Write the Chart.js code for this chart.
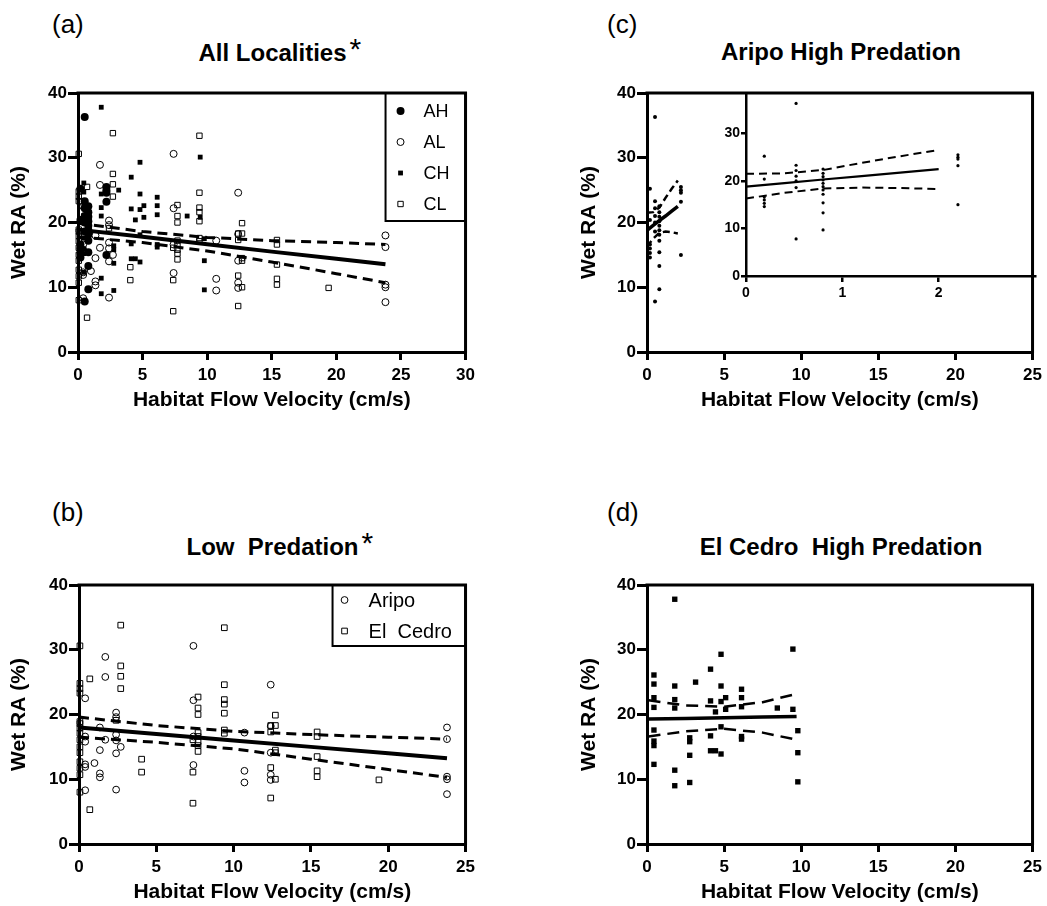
<!DOCTYPE html>
<html>
<head>
<meta charset="utf-8">
<title>Wet RA vs habitat flow velocity</title>
<script src="https://cdn.jsdelivr.net/npm/chart.js@4.4.0/dist/chart.umd.min.js"></script>
<style>
  body { margin: 0; background: #fff; }
  #page { position: relative; width: 1047px; height: 906px; overflow: hidden;
          font-family: "Liberation Sans", Arial, Helvetica, sans-serif; color: #000; }
  canvas { position: absolute; }
  .tag { position: absolute; font-size: 26px; line-height: 30px; }
  .head { position: absolute; font-size: 24px; font-weight: bold; line-height: 28px;
          text-align: center; white-space: pre; }
  .head .t { position: relative; }
  .star { position: absolute; left: 100%; top: -5px; margin-left: 3px;
          font-weight: normal; font-size: 30px; line-height: 30px; }
</style>
</head>
<body>
<div id="page">
  <div class="tag" style="left:52px;top:9px">(a)</div>
  <div class="tag" style="left:607px;top:9px">(c)</div>
  <div class="tag" style="left:52px;top:497px">(b)</div>
  <div class="tag" style="left:607px;top:497px">(d)</div>

  <div class="head" style="left:78px;width:389px;top:39px"><span class="t">All Localities<span class="star">*</span></span></div>
  <div class="head" style="left:647px;width:388px;top:38px"><span class="t">Aripo High Predation</span></div>
  <div class="head" style="left:79px;width:387px;top:533px"><span class="t">Low  Predation<span class="star">*</span></span></div>
  <div class="head" style="left:647px;width:388px;top:533px"><span class="t">El Cedro  High Predation</span></div>

  <canvas id="chartA"></canvas>
  <canvas id="chartB"></canvas>
  <canvas id="chartC"></canvas>
  <canvas id="chartInset"></canvas>
  <canvas id="chartD"></canvas>
</div>

<script>
// AH = Aripo high predation, AL = Aripo low, CH = El Cedro high, CL = El Cedro low
// flow velocity (cm/s) and wet RA (%)
const ahX = [0.19, 0.19, 0.19, 0.19, 0.19, 0.19,
             0.52, 0.52, 0.52, 0.52, 0.52, 0.52, 0.52,
             0.8, 0.8, 0.8, 0.8, 0.8, 0.8, 0.8, 0.8, 0.8, 0.8, 0.8,
             2.2, 2.2, 2.2, 2.2, 2.2];
const ahY = [25.2, 20.4, 16.6, 16.0, 15.3, 14.6,
             36.3, 23.3, 22.2, 21.0, 20.0, 18.6, 7.8,
             22.5, 21.6, 20.9, 20.2, 19.5, 18.8, 18.1, 17.2, 15.4, 13.3, 9.7,
             25.5, 25.0, 24.6, 23.2, 15.0];

const alX = [0.4, 0.4, 0.4, 0.4, 0.4, 0.4, 1.0, 1.35, 1.35, 1.35, 1.35,
             1.7, 1.7, 1.7, 2.4, 2.4, 2.4, 2.4, 2.4, 2.4, 2.7,
             7.4, 7.4, 7.4, 7.4, 10.7, 10.7, 10.7,
             12.4, 12.4, 12.4, 12.4, 12.4, 23.8, 23.8, 23.8, 23.8, 23.8];
const alY = [22.5, 16.6, 15.8, 12.3, 11.9, 8.3, 12.5, 18.0, 14.5, 10.9, 10.3,
             28.9, 25.8, 16.1, 20.3, 19.6, 16.9, 16.0, 14.0, 8.4, 15.0,
             30.6, 22.2, 16.6, 12.2, 17.2, 11.3, 9.5,
             24.6, 18.2, 14.1, 10.7, 9.9, 18.0, 16.2, 10.4, 10.0, 7.7];

const chX = [0.45, 0.45, 0.45, 0.45, 0.45, 0.45, 0.45, 0.45,
             1.8, 1.8, 1.8, 1.8, 1.8, 1.8, 2.77, 2.77, 2.77, 2.77, 3.15,
             4.12, 4.12, 4.12, 4.12, 4.44, 4.44, 4.8, 4.8, 4.8, 4.8, 4.8,
             5.1, 5.1, 6.13, 6.13, 6.13, 6.13, 6.13, 8.45,
             9.46, 9.46, 9.78, 9.78, 9.78];
const chY = [26.1, 24.7, 22.6, 21.1, 17.6, 15.9, 15.2, 12.3,
             37.8, 24.4, 22.3, 21.0, 11.4, 9.0, 16.4, 15.8, 13.7, 9.5, 25.0,
             27.0, 22.1, 16.7, 14.4, 20.4, 14.4, 29.3, 24.4, 22.0, 18.1, 13.9,
             22.6, 20.8, 23.9, 22.6, 21.2, 16.6, 16.2, 21.0,
             30.1, 20.8, 17.5, 14.1, 9.6];

const clX = [0.06, 0.06, 0.06, 0.06, 0.06, 0.06, 0.06, 0.06, 0.06, 0.06, 0.06, 0.06, 0.06, 0.06, 0.06,
             0.7, 0.7, 2.4, 2.7, 2.7, 2.7, 2.7, 4.05, 4.05, 7.37, 7.37, 7.37,
             7.7, 7.7, 7.7, 7.7, 7.7, 7.7, 7.7, 7.7,
             9.4, 9.4, 9.4, 9.4, 9.4, 9.4, 9.4,
             12.4, 12.4, 12.4, 12.4, 12.7, 12.7, 12.7, 12.7, 12.7,
             15.4, 15.4, 15.4, 15.4, 15.4, 19.4];
const clY = [30.6, 24.8, 24.0, 23.3, 18.9, 18.6, 17.9, 17.1, 16.1, 15.0, 14.1, 12.7, 11.7, 10.7, 8.0,
             25.5, 5.3, 19.1, 33.8, 27.5, 25.9, 24.0, 13.1, 11.1, 16.1, 11.1, 6.3,
             22.7, 21.0, 20.0, 17.2, 16.6, 15.8, 15.2, 14.3,
             33.4, 24.6, 22.3, 21.6, 20.2, 17.6, 17.1,
             18.3, 17.3, 11.8, 7.1, 19.9, 18.3, 14.5, 14.1, 10.0,
             17.3, 16.6, 13.5, 11.3, 10.4, 9.9];

// regression lines with 95% bands
const allFitX  = [0, 5, 10, 15, 20, 23.8];
const allFit   = [18.9, 17.8, 16.65, 15.5, 14.4, 13.55];
const allUpper = [19.9, 18.6, 17.7, 17.2, 16.9, 16.6];
const allLower = [17.8, 16.9, 15.6, 13.9, 12.1, 10.7];

const lowFitX  = [0, 5, 10, 15, 20, 23.8];
const lowFit   = [18.0, 17.0, 16.0, 15.0, 14.0, 13.25];
const lowUpper = [19.6, 18.3, 17.4, 16.9, 16.5, 16.2];
const lowLower = [16.5, 15.7, 14.7, 13.1, 11.5, 10.3];

const ahFitX  = [0, 0.4, 0.8, 1.2, 1.6, 2.0];
const ahFit   = [18.8, 19.55, 20.3, 21.0, 21.75, 22.5];
const ahUpper = [21.5, 21.6, 22.3, 23.8, 25.2, 26.5];
const ahLower = [16.3, 17.5, 18.4, 18.6, 18.5, 18.3];

const chFitX  = [0.1, 2.5, 5, 7.5, 9.7];
const chFit   = [19.3, 19.4, 19.5, 19.6, 19.7];
const chUpper = [22.2, 21.4, 21.2, 21.9, 23.2];
const chLower = [16.6, 17.4, 17.8, 17.2, 16.1];

// tick labels
const ticks30  = [0, 5, 10, 15, 20, 25, 30];
const ticks25  = [0, 5, 10, 15, 20, 25];
const ticksRA  = [0, 10, 20, 30, 40];
const insetXTicks = [0, 1, 2];
const insetYTicks = [0, 10, 20, 30];

const FONT = '"Liberation Sans", Arial, Helvetica, sans-serif';

function pts(xs, ys) {
  return xs.map(function (x, i) { return { x: x, y: ys[i] }; });
}

function scatterSet(label, xs, ys, style, r, filled) {
  return {
    label: label,
    data: pts(xs, ys),
    showLine: false,
    pointStyle: style,
    pointRadius: r,
    pointHoverRadius: r,
    pointBackgroundColor: filled ? '#000' : 'rgba(0,0,0,0)',
    pointBorderColor: '#000',
    pointBorderWidth: filled ? 0 : 1,
    clip: false,
    order: 2
  };
}

function fitSet(xs, ys, w, dash) {
  return {
    data: pts(xs, ys),
    showLine: true,
    borderColor: '#000',
    borderWidth: w,
    borderDash: dash || [],
    pointRadius: 0,
    pointHoverRadius: 0,
    fill: false,
    tension: 0,
    clip: false,
    order: 1
  };
}

function axis(pos, max, tickVals, size, o) {
  return {
    type: 'linear',
    position: pos,
    min: 0,
    max: max,
    afterBuildTicks: function (s) { s.ticks = tickVals.map(function (v) { return { value: v }; }); },
    afterFit: function (s) { if (pos === 'bottom') s.height = size; else s.width = size; },
    grid: { drawOnChartArea: false, drawTicks: true, tickLength: o.tick, tickWidth: o.lw,
            tickColor: '#000', color: '#000', lineWidth: o.lw },
    border: { display: true, color: '#000', width: o.lw },
    ticks: { color: '#000', padding: o.pad, autoSkip: false, maxRotation: 0,
             font: { family: FONT, size: o.font, weight: 'bold' } },
    title: o.title ? { display: true, text: o.title, color: '#000',
                       font: { family: FONT, size: 21, weight: 'bold' },
                       padding: pos === 'bottom' ? { top: 0, bottom: 2 } : { top: 7, bottom: 0 } }
                   : { display: false }
  };
}

// top and right edges of the plot box
const framePlugin = {
  id: 'frame',
  afterDraw: function (chart, args, o) {
    if (!o.width) return;
    const a = chart.chartArea, ctx = chart.ctx;
    ctx.save();
    ctx.strokeStyle = '#000';
    ctx.lineWidth = o.width;
    ctx.lineCap = 'square';
    ctx.beginPath();
    ctx.moveTo(a.left, a.top);
    ctx.lineTo(a.right, a.top);
    ctx.lineTo(a.right, a.bottom);
    ctx.stroke();
    ctx.restore();
  }
};

function drawMark(ctx, ds, x, y) {
  const r = ds.pointRadius;
  ctx.beginPath();
  if (ds.pointStyle === 'rect') {
    const h = r * Math.SQRT1_2;
    ctx.rect(x - h, y - h, 2 * h, 2 * h);
  } else {
    ctx.arc(x, y, r, 0, Math.PI * 2);
  }
  if (ds.pointBorderWidth > 0) {
    ctx.lineWidth = ds.pointBorderWidth;
    ctx.stroke();
  } else {
    ctx.fill();
  }
}

// boxed key in the top right corner of the plot
const keyPlugin = {
  id: 'key',
  afterDatasetsDraw: function (chart, args, o) {
    if (!o.width) return;
    const a = chart.chartArea, ctx = chart.ctx;
    const x0 = a.right - o.width, y0 = a.top;
    ctx.save();
    ctx.fillStyle = '#fff';
    ctx.fillRect(x0, y0, o.width, o.height);
    ctx.strokeStyle = '#000';
    ctx.lineWidth = 2;
    ctx.strokeRect(x0, y0, o.width, o.height);
    ctx.fillStyle = '#000';
    ctx.font = o.font + 'px ' + FONT;
    ctx.textBaseline = 'middle';
    let row = 0;
    chart.data.datasets.forEach(function (ds) {
      if (!ds.label) return;
      const y = y0 + o.first + row * o.step;
      drawMark(ctx, ds, x0 + o.symX, y);
      ctx.fillText(ds.label, x0 + o.textX, y + 1);
      row++;
    });
    ctx.restore();
  }
};

function makeChart(id, g, datasets, xMax, xTicks, yMax, yTicks, o) {
  const c = document.getElementById(id);
  c.width = g.w;
  c.height = g.h;
  c.style.left = g.left + 'px';
  c.style.top = g.top + 'px';
  return new Chart(c, {
    type: 'scatter',
    data: { datasets: datasets },
    plugins: [framePlugin, keyPlugin],
    options: {
      responsive: false,
      animation: false,
      events: [],
      layout: { padding: { left: 0, top: g.T - g.top, right: g.left + g.w - g.R, bottom: 0 } },
      scales: {
        x: axis('bottom', xMax, xTicks, g.top + g.h - g.B,
                { lw: o.lw, tick: o.xTick, pad: o.xPad, font: o.font, title: o.xTitle }),
        y: axis('left', yMax, yTicks, g.L - g.left,
                { lw: o.lw, tick: o.yTick, pad: o.yPad, font: o.font, title: o.yTitle })
      },
      plugins: {
        legend: { display: false },
        tooltip: { enabled: false },
        frame: { width: o.frame || 0 },
        key: o.key || {}
      }
    }
  });
}

const xName = 'Habitat Flow Velocity (cm/s)';
const yName = 'Wet RA (%)';
const mainAxes = { lw: 3, xTick: 8, yTick: 10, xPad: 5, yPad: 1, font: 17,
                   xTitle: xName, yTitle: yName, frame: 3 };

// (a) all localities
makeChart('chartA', { left: 0, top: 75, w: 480, h: 340, L: 78, T: 93, R: 467, B: 352 }, [
  fitSet(allFitX, allFit, 4),
  fitSet(allFitX, allUpper, 3, [10, 6]),
  fitSet(allFitX, allLower, 3, [10, 6]),
  scatterSet('AH', ahX, ahY, 'circle', 4, true),
  scatterSet('AL', alX, alY, 'circle', 3.5, false),
  scatterSet('CH', chX, chY, 'rect', 3.4, true),
  scatterSet('CL', clX, clY, 'rect', 3.8, false)
], 30, ticks30, 40, ticksRA, Object.assign({}, mainAxes, {
  key: { width: 80, height: 128, first: 18, step: 31, symX: 15, textX: 38, font: 18 }
}));

// (b) low predation
makeChart('chartB', { left: 0, top: 567, w: 480, h: 340, L: 79, T: 585, R: 466, B: 844 }, [
  fitSet(lowFitX, lowFit, 4),
  fitSet(lowFitX, lowUpper, 3, [10, 6]),
  fitSet(lowFitX, lowLower, 3, [10, 6]),
  scatterSet('Aripo', alX, alY, 'circle', 3.4, false),
  scatterSet('El  Cedro', clX, clY, 'rect', 4, false)
], 25, ticks25, 40, ticksRA, Object.assign({}, mainAxes, {
  key: { width: 133, height: 61, first: 15, step: 31, symX: 12, textX: 36, font: 20 }
}));

// (c) Aripo high predation, full range
makeChart('chartC', { left: 570, top: 75, w: 477, h: 340, L: 647, T: 93, R: 1035, B: 352 }, [
  fitSet(ahFitX, ahFit, 3.5),
  fitSet(ahFitX, ahUpper, 2.5, [7, 4]),
  fitSet(ahFitX, ahLower, 2.5, [7, 4]),
  scatterSet('AH', ahX, ahY, 'circle', 2, true)
], 25, ticks25, 40, ticksRA, mainAxes);

// (c) inset, zoomed to 0-3 cm/s
makeChart('chartInset', { left: 700, top: 80, w: 347, h: 230, L: 746, T: 93, R: 1035, B: 276 }, [
  fitSet(ahFitX, ahFit, 2.2),
  fitSet(ahFitX, ahUpper, 2, [8, 5]),
  fitSet(ahFitX, ahLower, 2, [8, 5]),
  scatterSet('AH', ahX, ahY, 'circle', 1.6, true)
], 3, insetXTicks, 38.5, insetYTicks,
  { lw: 2.5, xTick: 6, yTick: 5, xPad: 3, yPad: 1, font: 14 });

// (d) El Cedro high predation
makeChart('chartD', { left: 570, top: 567, w: 477, h: 340, L: 647, T: 585, R: 1035, B: 844 }, [
  fitSet(chFitX, chFit, 3.5),
  fitSet(chFitX, chUpper, 2.5, [12, 7]),
  fitSet(chFitX, chLower, 2.5, [12, 7]),
  scatterSet('CH', chX, chY, 'rect', 3.8, true)
], 25, ticks25, 40, ticksRA, mainAxes);
</script>
</body>
</html>
